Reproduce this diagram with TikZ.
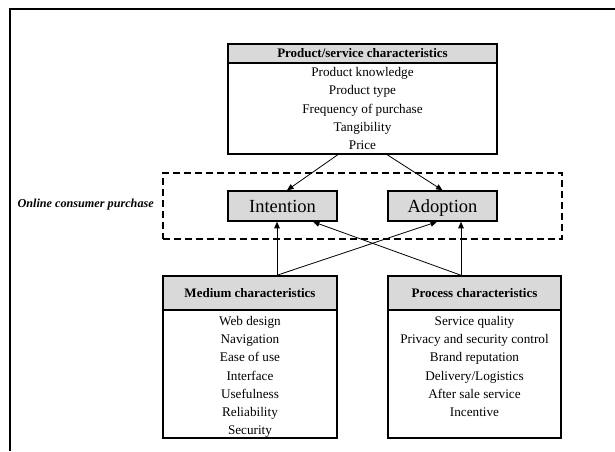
\documentclass[tikz,border=0pt]{standalone}
\usepackage{fontspec}
\setmainfont{Liberation Serif}
\usetikzlibrary{arrows.meta,calc}

\tikzset{
  boxline/.style={draw, line width=1.5pt, inner sep=0pt},
  headbox/.style={boxline, fill=black!15, font=\fontsize{13}{15}\selectfont\bfseries},
  bodybox/.style={boxline, fill=white},
  stagebox/.style={boxline, fill=black!15, minimum width=109pt, minimum height=30pt,
                   text height=14.5pt, text depth=2pt,
                   font=\fontsize{18.5}{20}\selectfont},
  itemtext/.style={anchor=base, inner sep=0pt, font=\fontsize{13.2}{15}\selectfont},
  link/.style={line width=0.8pt, -{Triangle[length=6.5pt,width=5.5pt]}},
}

\begin{document}
\begin{tikzpicture}[x=1pt, y=-1pt]
  \useasboundingbox (0,0) rectangle (615,451);

  % page frame (top and left edges)
  \draw[line width=1.8pt] (10,451) -- (10,9) -- (615,9);

  % product / service characteristics
  \node[bodybox, minimum width=269pt, minimum height=91pt] (prodB) at (362.5,108.5) {};
  \node[headbox, minimum width=269pt, minimum height=19pt] (prodH) at (362.5,53.5)
       {Product/service characteristics};
  \foreach \t [count=\i from 0] in {Product knowledge, Product type,
      Frequency of purchase, Tangibility, Price}
    \node[itemtext] (prod-\i) at (362.5, 76.5+18.25*\i) {\t};

  % online consumer purchase group
  \node[draw, dashed, line width=1.8pt, dash pattern=on 7pt off 4pt,
        minimum width=399pt, minimum height=66pt, inner sep=0pt] (ocp) at (362.5,206) {};
  \node[anchor=east, inner sep=0pt, font=\fontsize{12.2}{14}\selectfont\bfseries\itshape]
       (ocpLabel) at (154,205) {Online consumer purchase};
  \node[stagebox] (intent) at (282.5,206) {Intention};
  \node[stagebox] (adopt) at (442.5,206) {Adoption};

  % medium characteristics
  \node[bodybox, minimum width=174pt, minimum height=128pt] (medB) at (250,374) {};
  \node[headbox, minimum width=174pt, minimum height=34pt] (medH) at (250,293)
       {Medium characteristics};
  \foreach \t [count=\i from 0] in {Web design, Navigation, Ease of use, Interface,
      Usefulness, Reliability, Security}
    \node[itemtext] (med-\i) at (250, 325.5+18.17*\i) {\t};

  % process characteristics
  \node[bodybox, minimum width=173pt, minimum height=128pt] (procB) at (474.5,374) {};
  \node[headbox, minimum width=173pt, minimum height=34pt] (procH) at (474.5,293)
       {Process characteristics};
  \foreach \t [count=\i from 0] in {Service quality, Privacy and security control,
      Brand reputation, Delivery/Logistics, After sale service, Incentive}
    \node[itemtext] (proc-\i) at (474.5, 325.5+18.17*\i) {\t};

  % product characteristics -> stages
  \draw[link] (prodB.south -| intent.east) -- ([xshift=4.5pt]intent.north);
  \draw[link] (prodB.south -| adopt.west) -- (adopt.north);

  % medium / process characteristics -> stages
  \draw[link] ([xshift=-5.5pt]intent.south |- medH.north) -- ([xshift=-5.5pt]intent.south);
  \draw[link] ([xshift=-5.5pt]intent.south |- medH.north) -- ([xshift=-5.5pt]adopt.south);
  \draw[link] ([xshift=18.5pt]adopt.south |- procH.north) -- ([xshift=18.5pt]adopt.south);
  \draw[link] ([xshift=18.5pt]adopt.south |- procH.north) -- ([xshift=30.5pt]intent.south);
\end{tikzpicture}
\end{document}
